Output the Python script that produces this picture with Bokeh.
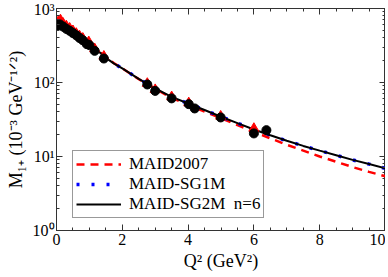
from bokeh.plotting import figure
from bokeh.models import (LinearAxis, LogAxis, Range1d, Legend, LegendItem, FixedTicker,
                          LogTicker, CustomJSTickFormatter)
from bokeh.embed import file_html
from bokeh.resources import INLINE

# ---- data ----
q_curve = [0, 0.1, 0.25, 0.5, 0.75, 1.0, 1.25, 1.5, 1.75, 2.0, 2.5, 3.0, 3.5, 4.0, 4.5,
           5.0, 5.5, 6.0, 6.5, 7.0, 7.5, 8.0, 8.5, 9.0, 9.5, 10.0]
maid2007 = [650, 690, 620, 490, 410, 345, 275, 220, 182, 155, 111, 82, 62, 50, 40.5,
            33, 26.6, 21.6, 17.6, 14.4, 12.0, 10.0, 8.5, 7.2, 6.2, 5.4]
sg1m = [615, 635, 578, 468, 398, 333, 268, 215, 180, 155, 112, 83, 64, 52, 42.5,
        34.5, 28.3, 23.2, 19.4, 16.3, 13.9, 12.0, 10.4, 9.0, 7.9, 6.9]
sg2m = [620, 640, 580, 470, 400, 335, 270, 215, 180, 155, 112, 83, 64, 52, 42.5,
        34.5, 28.3, 23.2, 19.4, 16.3, 13.9, 12.0, 10.4, 9.0, 7.9, 6.9]

q_black = [0.0, 0.05, 0.1, 0.2, 0.3, 0.4, 0.5, 0.6, 0.7, 0.8, 0.92, 1.0, 1.16, 1.44,
           2.76, 3.0, 3.5, 4.02, 4.2, 4.99, 6.0, 6.38]
m_black = [590, 600, 610, 570, 530, 500, 465, 435, 400, 372, 330, 320, 268, 211,
           94, 77, 61, 51, 44.6, 33.7, 20.5, 22.7]

q_red = [0.05, 0.12, 0.2, 0.3, 0.4, 0.5, 0.6, 0.7, 0.8, 0.98, 1.16, 1.44, 2.76, 3.0,
         3.5, 4.02, 4.99, 6.0]
m_red = [660, 700, 630, 580, 540, 500, 460, 425, 395, 355, 285, 226, 97, 80,
         64, 53, 35, 23.9]

legend_labels = ["MAID2007", "MAID-SG1M", "MAID-SG2M  n=6"]
y_tick_labels = {1: "10⁰", 10: "10¹", 100: "10²", 1000: "10³"}

FONT = "Liberation Serif"

p = figure(width=385, height=273, y_axis_type="log",
           x_range=Range1d(0, 10), y_range=Range1d(1, 1000),
           output_backend="svg", toolbar_location=None,
           min_border_left=56, min_border_right=0, min_border_top=8, min_border_bottom=36)

p.xgrid.visible = False
p.ygrid.visible = False
p.outline_line_color = "#333333"
p.outline_line_width = 1
p.background_fill_color = "white"
p.border_fill_color = "white"

r_red = p.line(q_curve, maid2007, line_color="red", line_width=2.5, line_dash="8 6")
r_blue = p.line(q_curve, sg1m, line_color="blue", line_width=3.5, line_dash="3 12")
r_black = p.line(q_curve, sg2m, line_color="black", line_width=2)

p.scatter(q_red, m_red, marker="triangle", size=10, fill_color="red", line_color="red")
p.scatter(q_black, m_black, marker="circle", size=9, fill_color="black", line_color="black")

def style_axis(ax):
    ax.axis_line_color = "#333333"
    ax.major_tick_in = 6
    ax.major_tick_out = 0
    ax.minor_tick_in = 3
    ax.minor_tick_out = 0
    ax.major_tick_line_color = "#333333"
    ax.minor_tick_line_color = "#333333"
    ax.major_label_text_font = FONT
    ax.major_label_text_font_size = "16px"
    ax.major_label_text_color = "black"
    ax.axis_label_text_font = FONT
    ax.axis_label_text_font_size = "18px"
    ax.axis_label_text_font_style = "normal"
    ax.axis_label_text_color = "black"

def blank_axis(ax):
    style_axis(ax)
    ax.formatter = CustomJSTickFormatter(code="return ''")
    ax.major_label_text_font_size = "1px"
    ax.major_label_standoff = 0
    ax.axis_label = None

x_major = [0, 2, 4, 6, 8, 10]
x_minor = [i * 0.5 for i in range(21)]

p.xaxis.ticker = FixedTicker(ticks=x_major, minor_ticks=x_minor)
style_axis(p.xaxis[0])
p.xaxis.axis_label = "Q² (GeV²)"
p.xaxis.axis_label_standoff = 3
p.xaxis.major_label_standoff = 3

p.yaxis.ticker = LogTicker(num_minor_ticks=10)
style_axis(p.yaxis[0])
p.yaxis.major_label_overrides = y_tick_labels
p.yaxis.axis_label = "M₁₊ (10⁻³ GeV⁻¹ᐟ²)"
p.yaxis.axis_label_standoff = 4
p.yaxis.major_label_standoff = 2

top = LinearAxis(ticker=FixedTicker(ticks=x_major, minor_ticks=x_minor))
blank_axis(top)
p.add_layout(top, "above")
right = LogAxis(ticker=LogTicker(num_minor_ticks=10))
blank_axis(right)
p.add_layout(right, "right")

legend = Legend(items=[LegendItem(label=legend_labels[0], renderers=[r_red]),
                       LegendItem(label=legend_labels[1], renderers=[r_blue]),
                       LegendItem(label=legend_labels[2], renderers=[r_black])],
                location=(16, 12))
legend.label_text_font = FONT
legend.label_text_font_size = "17px"
legend.label_text_line_height = 0.85
legend.label_text_color = "black"
legend.glyph_width = 45
legend.glyph_height = 14
legend.label_height = 14
legend.spacing = 0
legend.padding = 3
legend.margin = 0
legend.label_standoff = 8
legend.border_line_color = "#333333"
legend.border_line_width = 1
legend.background_fill_alpha = 1
p.add_layout(legend)

open("out.html", "w").write(file_html(p, INLINE))
